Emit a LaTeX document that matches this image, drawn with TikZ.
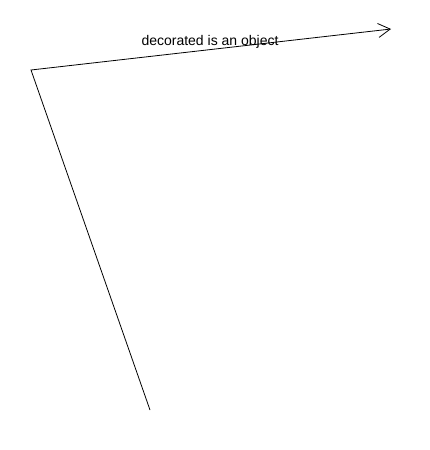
\documentclass[tikz,border=0pt]{standalone}
\usepackage{fontspec}
\setmainfont{Liberation Sans}
\usetikzlibrary{arrows.meta}
\begin{document}
\begin{tikzpicture}[x=1pt,y=-1pt,
  conn/.style={draw=black,line width=0.8pt,-{Straight Barb[length=12pt,width=14pt,line width=0.8pt]}},
  lbl/.style={font=\fontsize{14}{16}\selectfont,inner sep=0pt}]
\useasboundingbox (0,0) rectangle (430,450);
\coordinate (s) at (150,410);
\coordinate (c) at (31,70);
\coordinate (e) at (391,29);
\draw[conn] (s) -- (c) -- (e);
\node[lbl] (t) at (210,42) {decorated is an object};
\end{tikzpicture}
\end{document}
